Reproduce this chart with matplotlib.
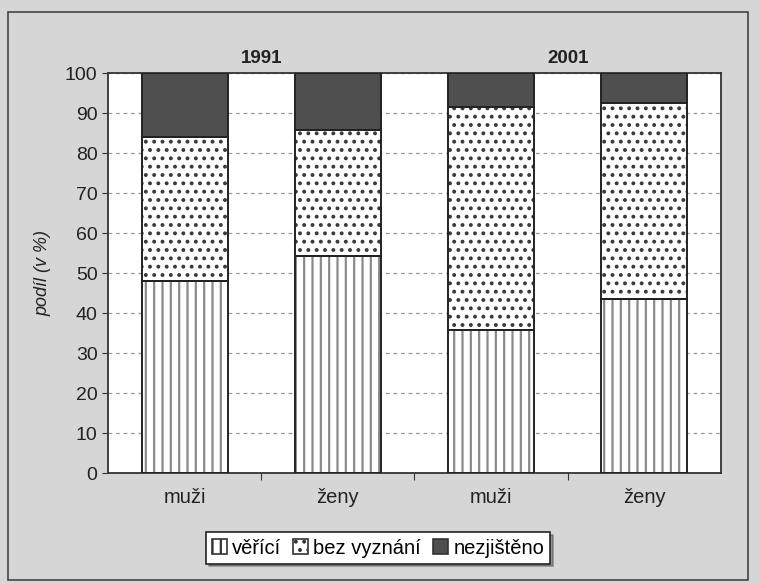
import numpy as np
import matplotlib
matplotlib.use("Agg")
import matplotlib.pyplot as plt
from matplotlib.patches import Rectangle

plt.rcParams['font.family'] = ['Liberation Sans', 'DejaVu Sans']
plt.rcParams['hatch.linewidth'] = 1.6

# data (podíl v %)
categories = ['muži', 'ženy', 'muži', 'ženy']
years = ['1991', '2001']
verici = [48.0, 54.3, 35.8, 43.5]
bez_vyznani = [36.0, 31.4, 55.8, 48.9]
nezjisteno = [16.0, 14.3, 8.4, 7.6]

fig = plt.figure(figsize=(7.59, 5.84), dpi=100)
fig.patch.set_facecolor('#d6d6d6')
fig.patches.append(Rectangle((8/759, 4/584), 740/759, 568/584, transform=fig.transFigure,
                             fill=False, edgecolor='#444444', linewidth=1.2))

ax = fig.add_axes([108/759, 1 - 473/584, 613/759, 400/584])
ax.set_facecolor('white')

x = np.arange(len(categories))
w = 0.56
b1 = ax.bar(x, verici, w, color='white', edgecolor='#8a8a8a', hatch='||', linewidth=0,
            label='věřící', zorder=3)
b2 = ax.bar(x, bez_vyznani, w, bottom=verici, color='white', edgecolor='#3a3a3a', hatch='..',
            linewidth=0, label='bez vyznání', zorder=3)
b3 = ax.bar(x, nezjisteno, w, bottom=np.add(verici, bez_vyznani), color='#4f4f4f',
            edgecolor='#222222', linewidth=0, label='nezjištěno', zorder=3)

# black outlines on top (hatch colour follows edgecolor)
for c in (b1, b2, b3):
    for p in c:
        ax.add_patch(Rectangle(p.get_xy(), p.get_width(), p.get_height(), fill=False,
                               edgecolor='#222222', linewidth=1.4, zorder=4))

ax.set_xlim(-0.5, 3.5)
ax.set_ylim(0, 100)
ax.set_yticks(np.arange(0, 101, 10))
ax.tick_params(axis='y', labelsize=14, length=4, color='#333333', labelcolor='#222222')
ax.set_xticks([0.5, 1.5, 2.5], minor=False)
ax.set_xticklabels([])
ax.set_xticks(x, minor=True)
ax.set_xticklabels(categories, minor=True)
ax.tick_params(axis='x', which='major', length=5, color='#333333')
ax.tick_params(axis='x', which='minor', length=0, labelsize=14.5, pad=11, labelcolor='#222222')
ax.yaxis.grid(True, linestyle=(0, (3, 3)), color='#999999', linewidth=0.9, zorder=1)
for s in ax.spines.values():
    s.set_color('#333333')
    s.set_linewidth(1.3)

ax.set_ylabel('podíl (v %)', fontstyle='italic', fontsize=13, labelpad=10, color='#222222')

for i, yr in enumerate(years):
    ax.text(0.5 + 2 * i, 101.5, yr, ha='center', va='bottom', fontsize=13.5,
            fontweight='bold', color='#222222')

leg = fig.legend(handles=[b1, b2, b3], loc='center', bbox_to_anchor=(378/759, 1 - 548/584),
                 ncol=3, fontsize=14.5, frameon=True, fancybox=False, shadow=True,
                 handlelength=0.75, handleheight=0.75, handletextpad=0.25,
                 columnspacing=0.6, borderpad=0.3)
leg.get_frame().set_edgecolor('#222222')
leg.get_frame().set_linewidth(1.2)
for h in leg.legend_handles:
    h.set_linewidth(1.2)
    h.set_edgecolor('#333333')

fig.savefig('out.png', dpi=100, facecolor=fig.get_facecolor())
